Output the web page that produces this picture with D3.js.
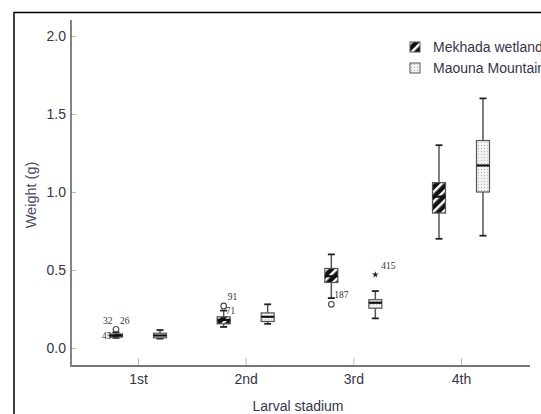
<!DOCTYPE html>
<html>
<head>
<script src="https://d3js.org/d3.v7.min.js"></script>
<style>
  body { margin: 0; background: #fff; }
  svg { font-family: 'Liberation Sans', Arial, sans-serif; }
</style>
</head>
<body>
<svg width="541" height="414"></svg>
<script>
// categories and box stats
var stages = ['1st', '2nd', '3rd', '4th'];
var sites = ['Mekhada wetland', 'Maouna Mountain'];

// [low whisker, q1, median, q3, high whisker]
var mekhada = [
  [0.065, 0.07, 0.08, 0.09, 0.10],
  [0.135, 0.155, 0.18, 0.20, 0.24],
  [0.32, 0.42, 0.46, 0.51, 0.60],
  [0.70, 0.865, 0.97, 1.06, 1.30]
];
var maouna = [
  [0.06, 0.065, 0.08, 0.095, 0.115],
  [0.155, 0.17, 0.20, 0.225, 0.28],
  [0.19, 0.255, 0.29, 0.31, 0.365],
  [0.72, 1.0, 1.17, 1.33, 1.60]
];

// outliers: stage, site index, value, label, symbol
var outStage = ['1st', '1st', '1st', '2nd', '2nd', '3rd', '3rd'];
var outSite = [0, 0, 0, 0, 0, 0, 1];
var outValue = [0.12, 0.12, 0.08, 0.27, 0.24, 0.28, 0.47];
var outLabel = ['32', '26', '45', '91', '71', '187', '415'];
var outSymbol = ['circle', 'none', 'none', 'circle', 'none', 'circle', 'star'];

var yTicks = [0, 0.5, 1.0, 1.5, 2.0];

var svg = d3.select('svg');
var textColor = '#363645';

// outer frame (runs off the right and bottom)
svg.append('rect')
  .attr('x', 14).attr('y', 12.5)
  .attr('width', 600).attr('height', 500)
  .attr('fill', 'none').attr('stroke', '#000').attr('stroke-width', 1.5);

var defs = svg.append('defs');
var hatch = defs.append('pattern')
  .attr('id', 'hatch').attr('patternUnits', 'userSpaceOnUse')
  .attr('width', 7).attr('height', 7)
  .attr('patternTransform', 'rotate(45)');
hatch.append('rect').attr('width', 7).attr('height', 7).attr('fill', '#111');
hatch.append('rect').attr('x', 0).attr('width', 2.5).attr('height', 7).attr('fill', '#fff');

var dots = defs.append('pattern')
  .attr('id', 'dots').attr('patternUnits', 'userSpaceOnUse')
  .attr('width', 3).attr('height', 3);
dots.append('rect').attr('width', 3).attr('height', 3).attr('fill', '#f2f2f2');
dots.append('rect').attr('x', 1).attr('y', 1).attr('width', 1).attr('height', 1).attr('fill', '#bbb');

var fills = ['url(#hatch)', 'url(#dots)'];

var x = d3.scalePoint().domain(stages).range([138, 461]);
var y = d3.scaleLinear().domain([0, 2]).range([348, 36]);
var offset = d3.scalePoint().domain([0, 1]).range([-22, 22]);

// axes
var yAxis = svg.append('g')
  .attr('transform', 'translate(71,0)')
  .call(d3.axisRight(y).tickValues(yTicks).tickFormat(d3.format('.1f')).tickSize(5));
yAxis.select('.domain').remove();
yAxis.selectAll('.tick line').attr('stroke', '#bbb');
yAxis.selectAll('.tick text')
  .attr('x', -5).attr('text-anchor', 'end')
  .attr('font-size', 14).attr('fill', textColor).attr('font-family', 'Liberation Sans, Arial');

var xAxis = svg.append('g')
  .attr('transform', 'translate(0,366)')
  .call(d3.axisTop(x).tickSize(8));
xAxis.select('.domain').remove();
xAxis.selectAll('.tick line').attr('stroke', '#bbb');
xAxis.selectAll('.tick text')
  .attr('y', 18).attr('dy', 0)
  .attr('font-size', 14).attr('fill', textColor).attr('font-family', 'Liberation Sans, Arial');

svg.append('path')
  .attr('d', 'M71,20V366H530')
  .attr('fill', 'none').attr('stroke', '#777').attr('stroke-width', 1.8);

svg.append('text')
  .attr('x', 298).attr('y', 411)
  .attr('text-anchor', 'middle').attr('font-size', 14).attr('fill', textColor)
  .text('Larval stadium');

svg.append('text')
  .attr('transform', 'translate(36,195) rotate(-90)')
  .attr('text-anchor', 'middle').attr('font-size', 14.5).attr('fill', '#4a4a66')
  .text('Weight (g)');

// boxes
var boxW = 13, capW = 7;
[mekhada, maouna].forEach(function (series, s) {
  var g = svg.append('g');
  series.forEach(function (d, i) {
    var cx = x(stages[i]) + offset(s);
    g.append('line')
      .attr('x1', cx).attr('x2', cx).attr('y1', y(d[0])).attr('y2', y(d[4]))
      .attr('stroke', '#555').attr('stroke-width', 1.5);
    g.append('line')
      .attr('x1', cx - capW / 2).attr('x2', cx + capW / 2).attr('y1', y(d[0])).attr('y2', y(d[0]))
      .attr('stroke', '#222').attr('stroke-width', 1.8);
    g.append('line')
      .attr('x1', cx - capW / 2).attr('x2', cx + capW / 2).attr('y1', y(d[4])).attr('y2', y(d[4]))
      .attr('stroke', '#222').attr('stroke-width', 1.8);
    g.append('rect')
      .attr('x', cx - boxW / 2).attr('width', boxW)
      .attr('y', y(d[3])).attr('height', y(d[1]) - y(d[3]))
      .attr('fill', fills[s]).attr('stroke', '#555').attr('stroke-width', 1.2);
    g.append('line')
      .attr('x1', cx - boxW / 2).attr('x2', cx + boxW / 2).attr('y1', y(d[2])).attr('y2', y(d[2]))
      .attr('stroke', '#111').attr('stroke-width', 2.2);
  });
});

// outliers with case labels
var labelDx = { '32': -13, '26': 4, '45': -14, '91': 4, '71': 2, '187': 3, '415': 6 };
var labelDy = { '32': -5, '26': -5, '45': 3, '91': -6, '71': 3, '187': -6, '415': -6 };
outValue.forEach(function (v, i) {
  var cx = x(outStage[i]) + offset(outSite[i]);
  if (outSymbol[i] === 'circle') {
    svg.append('circle').attr('cx', cx).attr('cy', y(v)).attr('r', 2.8)
      .attr('fill', 'none').attr('stroke', '#444').attr('stroke-width', 1.1);
  } else if (outSymbol[i] === 'star') {
    svg.append('path')
      .attr('transform', 'translate(' + cx + ',' + y(v) + ')')
      .attr('d', d3.symbol().type(d3.symbolStar).size(14)())
      .attr('fill', '#222');
  }
  svg.append('text')
    .attr('x', cx + labelDx[outLabel[i]]).attr('y', y(v) + labelDy[outLabel[i]])
    .attr('font-family', 'Liberation Serif, Times New Roman, serif')
    .attr('font-size', 9.5).attr('fill', '#333')
    .text(outLabel[i]);
});

// legend
var legend = svg.append('g').attr('transform', 'translate(410,42)');
sites.forEach(function (name, i) {
  var row = legend.append('g').attr('transform', 'translate(0,' + (i * 21) + ')');
  row.append('rect').attr('width', 10).attr('height', 10)
    .attr('fill', fills[i]).attr('stroke', '#555').attr('stroke-width', 1);
  row.append('text').attr('x', 23).attr('y', 10)
    .attr('font-size', 14).attr('fill', textColor).text(name);
});
</script>
</body>
</html>
